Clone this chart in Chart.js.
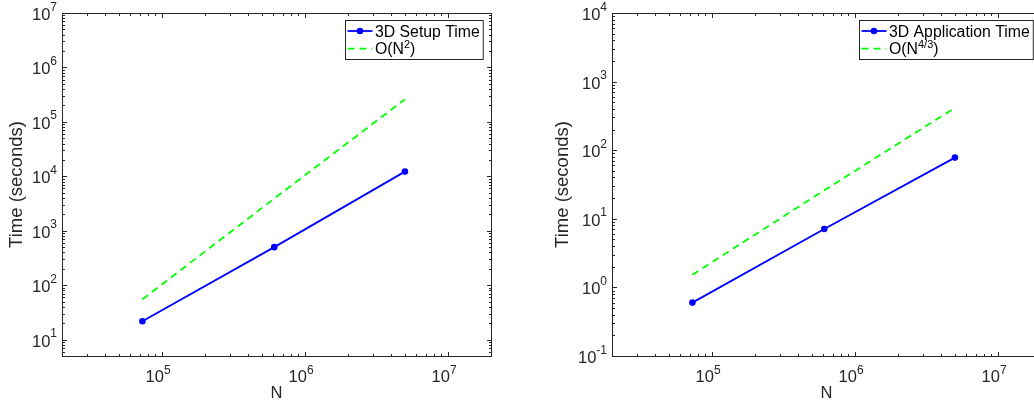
<!DOCTYPE html>
<html>
<head>
<meta charset="utf-8">
<script src="https://cdn.jsdelivr.net/npm/chart.js@4/dist/chart.umd.min.js"></script>
<style>
  body { margin: 0; background: #fff; overflow: hidden; }
  #wrap { position: relative; width: 1034px; height: 402px; overflow: hidden; }
  .panel { position: absolute; top: 0; }
</style>
</head>
<body>
<div id="wrap">
  <div class="panel" style="left:0"><canvas id="setup" width="517" height="402"></canvas></div>
  <div class="panel" style="left:517px"><canvas id="apply" width="540" height="402"></canvas></div>
</div>
<script>
// problem sizes and timings
const N = [7.3e4, 6.1e5, 5.0e6];
const setupTime = [21.7, 500, 12200];
const setupRef = [55, 3900, 260000];   // O(N^2) guide
const applyTime = [0.6, 7.1, 78];
const applyRef = [1.53, 26, 415];      // O(N^4/3) guide

const xRange = [2e4, 2e7];
const setupRange = [5, 1e7];
const applyRange = [0.1, 1e4];

const FONT = '"Liberation Sans", Arial, Helvetica, sans-serif';
const INK = '#262626';

// "O(N^{2})" -> [{t:'O(N'}, {t:'2', sup:true}, {t:')'}]
function parseRich(s) {
  const out = [];
  const re = /\^\{([^}]*)\}/g;
  let last = 0, m;
  while ((m = re.exec(s))) {
    if (m.index > last) out.push({ t: s.slice(last, m.index), sup: false });
    out.push({ t: m[1], sup: true });
    last = re.lastIndex;
  }
  if (last < s.length) out.push({ t: s.slice(last), sup: false });
  return out;
}

function richWidth(ctx, parts, size, supSize) {
  let w = 0;
  parts.forEach(p => {
    ctx.font = (p.sup ? supSize : size) + 'px ' + FONT;
    w += ctx.measureText(p.t).width;
  });
  return w;
}

function drawRich(ctx, parts, x, y, size, supSize, rise) {
  let cx = x;
  parts.forEach(p => {
    ctx.font = (p.sup ? supSize : size) + 'px ' + FONT;
    ctx.fillText(p.t, cx, p.sup ? y - rise : y);
    cx += ctx.measureText(p.t).width;
  });
}

function logTicks(min, max) {
  const ticks = [];
  for (let e = Math.floor(Math.log10(min)); e <= Math.ceil(Math.log10(max)); e++) {
    for (let k = 1; k <= 9; k++) {
      const v = k * Math.pow(10, e);
      if (v >= min * 0.9999 && v <= max * 1.0001) ticks.push({ v: v, major: k === 1, e: e });
    }
  }
  return ticks;
}

// matlab-like box axes: inward ticks on all sides, 10^n labels, legend box
const matlabAxes = {
  id: 'matlabAxes',
  afterDraw(chart, args, opts) {
    const ctx = chart.ctx;
    const a = chart.chartArea;
    const xs = chart.scales.x, ys = chart.scales.y;
    const L = Math.round(a.left) + 0.5, R = Math.round(a.right) + 0.5;
    const T = Math.round(a.top) + 0.5, B = Math.round(a.bottom) + 0.5;
    ctx.save();
    ctx.strokeStyle = INK;
    ctx.fillStyle = INK;
    ctx.lineWidth = 1;
    ctx.setLineDash([]);
    ctx.strokeRect(L, T, R - L, B - T);

    ctx.beginPath();
    logTicks(xs.min, xs.max).forEach(t => {
      const px = Math.round(xs.getPixelForValue(t.v)) + 0.5;
      const len = t.major ? 4.5 : 2.5;
      ctx.moveTo(px, B); ctx.lineTo(px, B - len);
      ctx.moveTo(px, T); ctx.lineTo(px, T + len);
    });
    logTicks(ys.min, ys.max).forEach(t => {
      const py = Math.round(ys.getPixelForValue(t.v)) + 0.5;
      const len = t.major ? 4.5 : 2.5;
      ctx.moveTo(L, py); ctx.lineTo(L + len, py);
      ctx.moveTo(R, py); ctx.lineTo(R - len, py);
    });
    ctx.stroke();

    const size = 16.5, sup = 12;
    ctx.textBaseline = 'alphabetic';
    ctx.textAlign = 'left';
    // x labels: the "10" ends just past the tick
    logTicks(xs.min, xs.max).filter(t => t.major).forEach(t => {
      const parts = parseRich('10^{' + t.e + '}');
      ctx.font = size + 'px ' + FONT;
      const bw = ctx.measureText('10').width;
      drawRich(ctx, parts, xs.getPixelForValue(t.v) - bw + 2, a.bottom + 25.7, size, sup, 7.5);
    });
    // y labels: right aligned next to the axis
    let maxW = 0;
    logTicks(ys.min, ys.max).filter(t => t.major).forEach(t => {
      const parts = parseRich('10^{' + t.e + '}');
      const w = richWidth(ctx, parts, size, sup);
      maxW = Math.max(maxW, w);
      drawRich(ctx, parts, a.left - 5 - w, ys.getPixelForValue(t.v) + 7, size, sup, 9.5);
    });

    // axis titles
    ctx.textAlign = 'center';
    ctx.font = '16.5px ' + FONT;
    ctx.fillText(opts.xTitle, (a.left + a.right) / 2, a.bottom + 42);
    ctx.save();
    ctx.translate(a.left - 5 - maxW - 15.5, (a.top + a.bottom) / 2);
    ctx.rotate(-Math.PI / 2);
    ctx.textBaseline = 'middle';
    ctx.font = '18.5px ' + FONT;
    ctx.fillText(opts.yTitle, 0, 0);
    ctx.restore();

    // legend
    const lsize = 15.8, lsup = 11, lrise = 6;
    const rows = chart.data.datasets.map(ds => ({ ds: ds, parts: parseRich(ds.label) }));
    let tw = 0;
    rows.forEach(r => { tw = Math.max(tw, richWidth(ctx, r.parts, lsize, lsup)); });
    const bw = 30 + tw + 3, bh = 39;
    const bx = Math.round(a.right - 8.5 - bw) + 0.5, by = Math.round(a.top + 7) + 0.5;
    ctx.fillStyle = '#fff';
    ctx.fillRect(bx, by, bw, bh);
    ctx.strokeStyle = INK;
    ctx.lineWidth = 1;
    ctx.strokeRect(bx, by, bw, bh);
    ctx.textAlign = 'left';
    ctx.textBaseline = 'alphabetic';
    rows.forEach((r, i) => {
      const cy = by + 10.5 + i * 17.6;
      ctx.strokeStyle = r.ds.borderColor;
      ctx.lineWidth = r.ds.borderWidth;
      ctx.setLineDash(r.ds.borderDash || []);
      ctx.beginPath();
      ctx.moveTo(bx + 2, cy); ctx.lineTo(bx + 27, cy);
      ctx.stroke();
      ctx.setLineDash([]);
      if (r.ds.pointRadius > 0) {
        ctx.fillStyle = r.ds.backgroundColor;
        ctx.beginPath();
        ctx.arc(bx + 14.5, cy, r.ds.pointRadius, 0, Math.PI * 2);
        ctx.fill();
      }
      ctx.fillStyle = '#000';
      drawRich(ctx, r.parts, bx + 29.5, cy + 5.7, lsize, lsup, lrise);
    });
    ctx.restore();
  }
};

function makeChart(id, label, times, refLabel, refs, yRange, pad) {
  return new Chart(document.getElementById(id), {
    type: 'scatter',
    data: {
      datasets: [{
        label: label,
        data: N.map((n, i) => ({ x: n, y: times[i] })),
        showLine: true,
        borderColor: '#0000ff',
        backgroundColor: '#0000ff',
        borderWidth: 1.8,
        pointRadius: 3.3,
        pointBorderWidth: 0
      }, {
        label: refLabel,
        data: N.map((n, i) => ({ x: n, y: refs[i] })),
        showLine: true,
        borderColor: '#00ff00',
        backgroundColor: '#00ff00',
        borderWidth: 1.8,
        borderDash: [7, 5],
        pointRadius: 0
      }]
    },
    options: {
      responsive: false,
      animation: false,
      layout: { padding: pad, autoPadding: false },
      plugins: {
        legend: { display: false },
        tooltip: { enabled: false },
        matlabAxes: { xTitle: 'N', yTitle: 'Time (seconds)' }
      },
      scales: {
        x: { type: 'logarithmic', min: xRange[0], max: xRange[1], display: false },
        y: { type: 'logarithmic', min: yRange[0], max: yRange[1], display: false }
      }
    },
    plugins: [matlabAxes]
  });
}

makeChart('setup', '3D Setup Time', setupTime, 'O(N^{2})', setupRef, setupRange,
  { left: 62, right: 26, top: 13, bottom: 46 });
makeChart('apply', '3D Application Time', applyTime, 'O(N^{4/3})', applyRef, applyRange,
  { left: 95, right: 16, top: 13, bottom: 46 });
</script>
</body>
</html>
